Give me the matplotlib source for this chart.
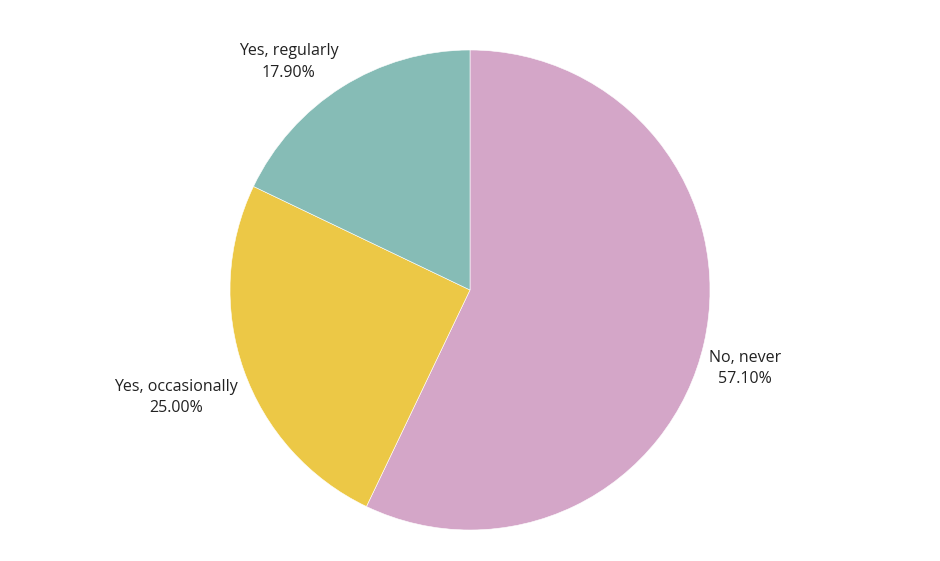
import matplotlib.pyplot as plt
import numpy as np

labels = ["No, never", "Yes, occasionally", "Yes, regularly"]
shares = [57.10, 25.00, 17.90]
colors = ["#D4A6C8", "#ECC846", "#86BCB6"]

# label distance from the centre, in pie radii
label_r = [1.19, 1.30, 1.22]
label_shift = [-2.8, 0.3, 6]  # extra rotation of label angle, degrees

plt.rcParams['font.family'] = ['Open Sans', 'DejaVu Sans']

fig = plt.figure(figsize=(9.4, 5.61), dpi=100)
# pie centre at (470, 290) px, radius 240 px
ax = fig.add_axes([230 / 940, (561 - 290 - 240) / 561, 480 / 940, 480 / 561])

wedges, _ = ax.pie(shares, colors=colors, startangle=90, counterclock=False,
                   radius=1, wedgeprops=dict(edgecolor="white", linewidth=0.4))

for w, lab, val, r, sh in zip(wedges, labels, shares, label_r, label_shift):
    ang = np.deg2rad((w.theta1 + w.theta2) / 2 + sh)
    ax.text(r * np.cos(ang), r * np.sin(ang) - 0.008, f"{lab}\n{val:.2f}%",
            ha="center", va="center", fontsize=11.5, linespacing=1.45,
            color="#222222")

ax.set_xlim(-1, 1)
ax.set_ylim(-1, 1)
ax.set_aspect("equal")
ax.axis("off")

fig.savefig("out.png", dpi=100)
